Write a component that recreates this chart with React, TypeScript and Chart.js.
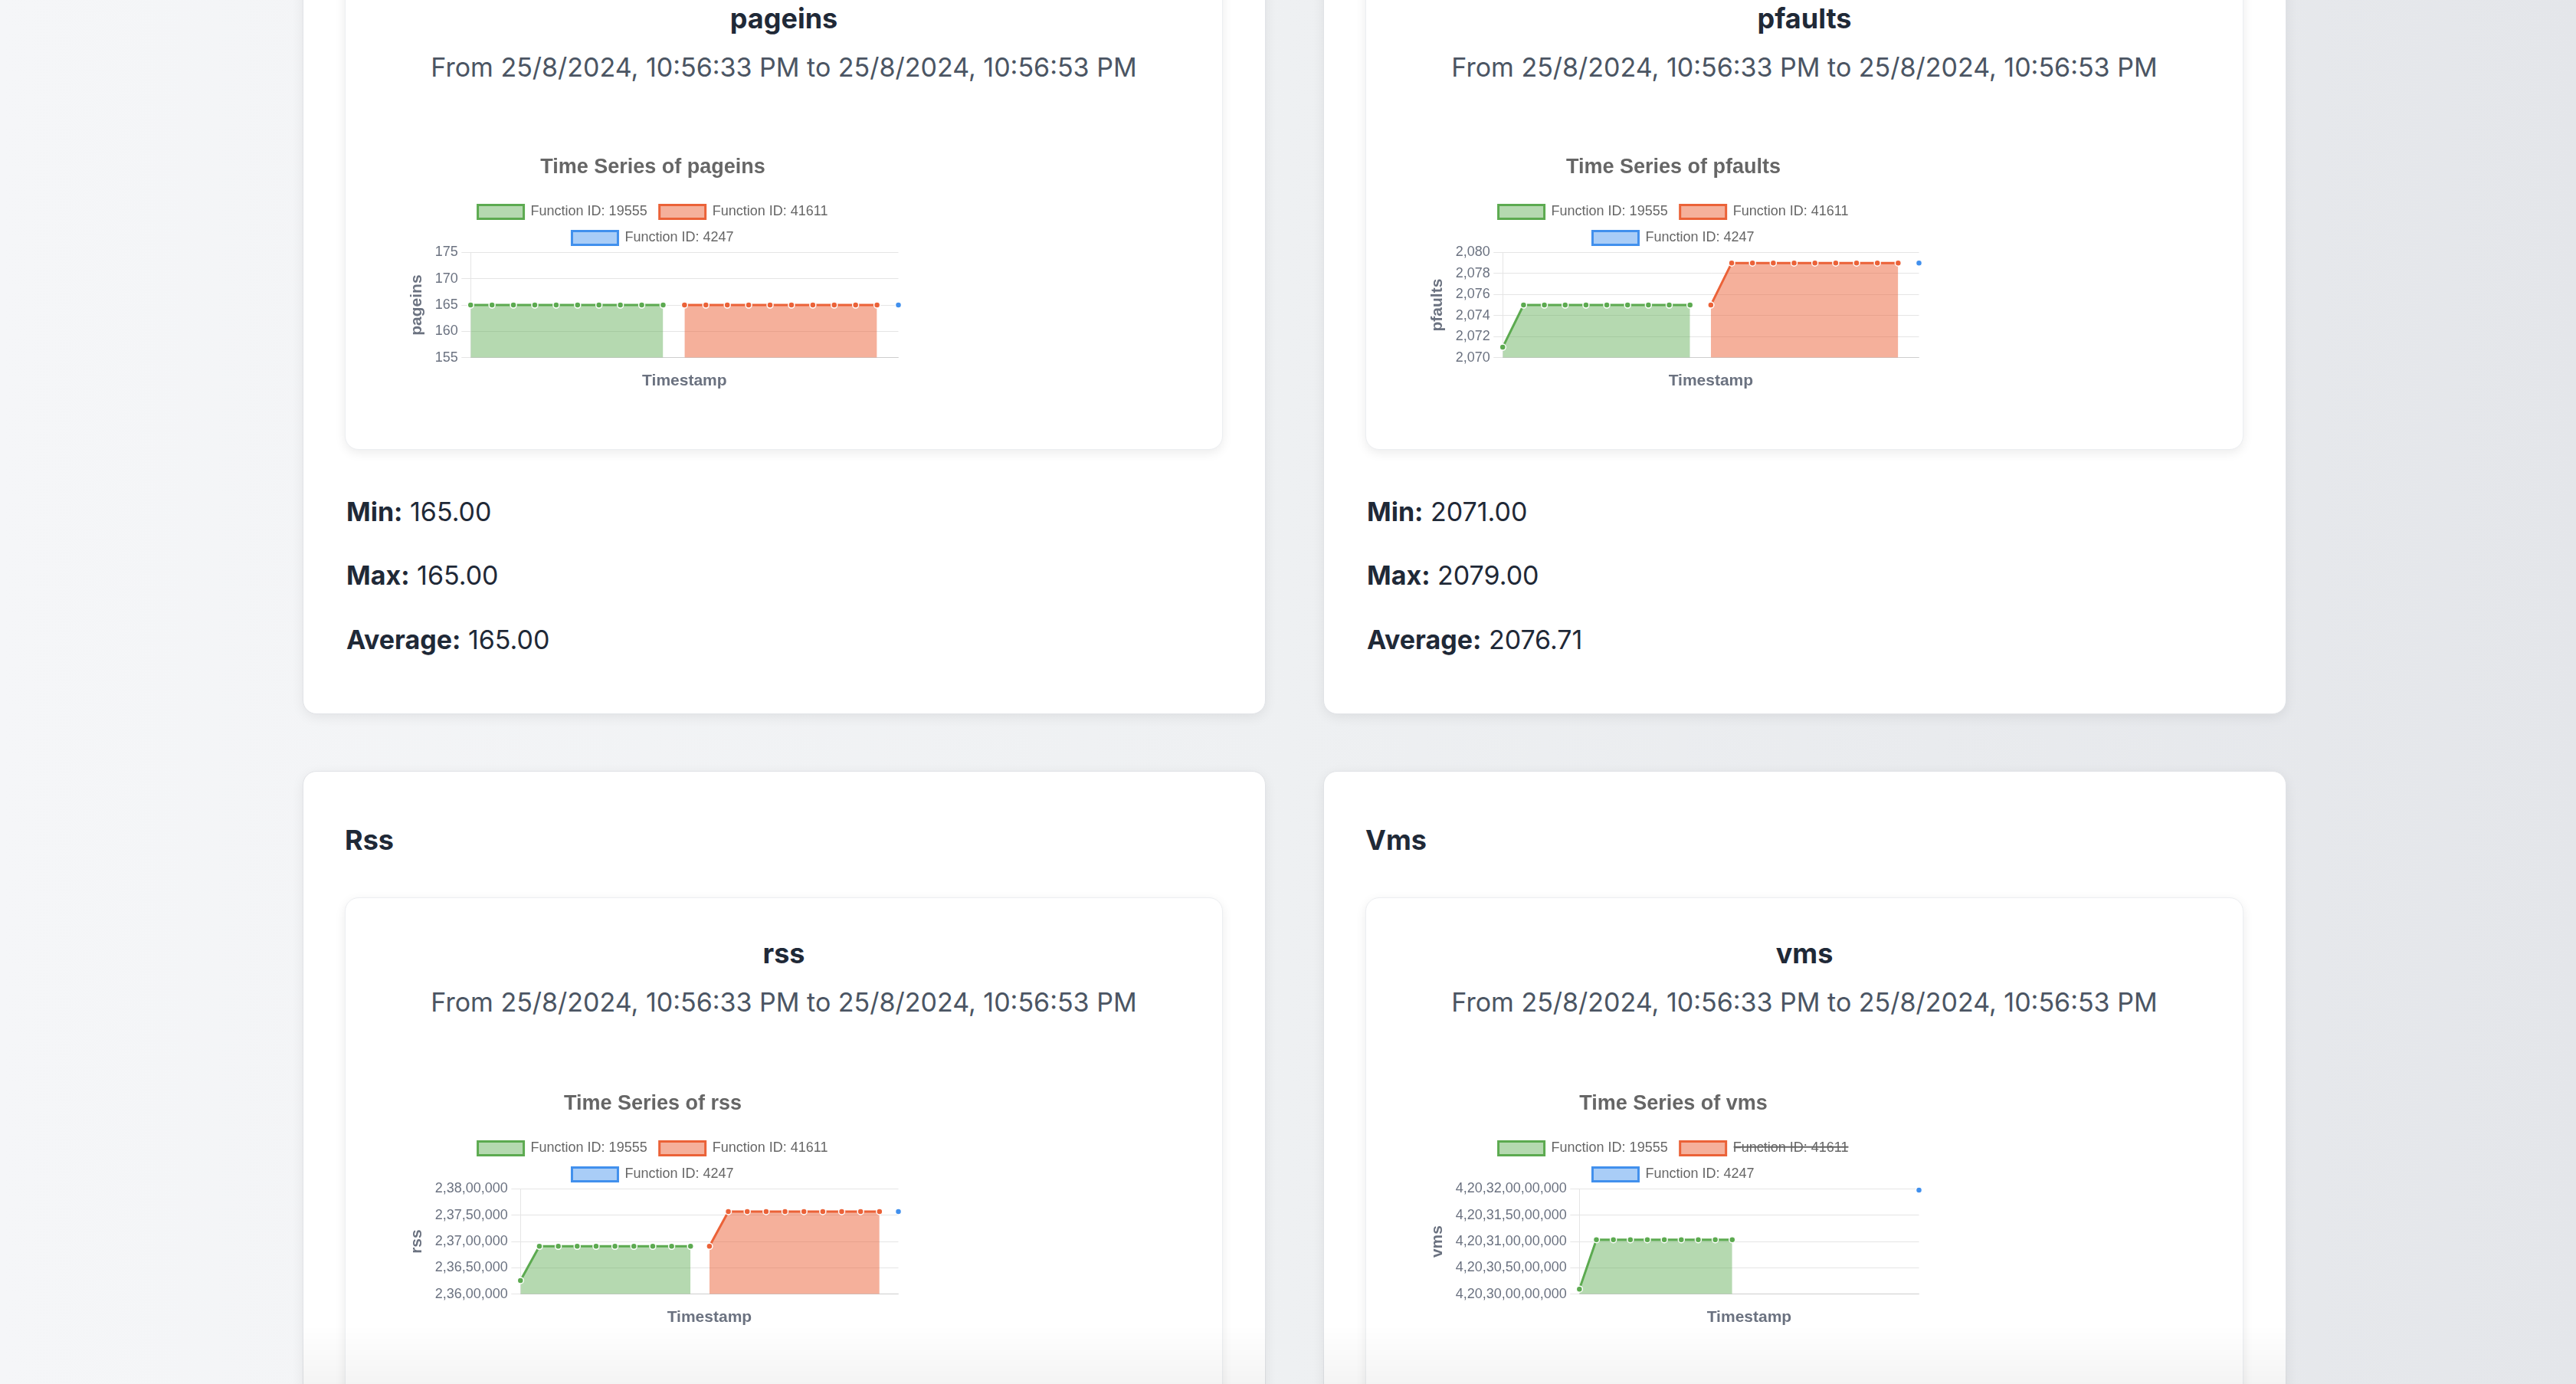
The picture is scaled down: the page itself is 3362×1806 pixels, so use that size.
import React, { useEffect, useRef } from "react";
import { Chart, registerables } from "chart.js";

Chart.register(...registerables);
Chart.defaults.font.family = "'Liberation Sans', Arial, Helvetica, sans-serif";

// ---------- data ----------
const timeLabels = [
  "10:56:33 PM", "10:56:34 PM", "10:56:35 PM", "10:56:36 PM", "10:56:37 PM",
  "10:56:38 PM", "10:56:39 PM", "10:56:40 PM", "10:56:41 PM", "10:56:42 PM",
  "10:56:43 PM", "10:56:44 PM", "10:56:45 PM", "10:56:46 PM", "10:56:47 PM",
  "10:56:48 PM", "10:56:49 PM", "10:56:50 PM", "10:56:51 PM", "10:56:52 PM",
  "10:56:53 PM",
];
const seriesNames = ["Function ID: 19555", "Function ID: 41611", "Function ID: 4247"];

const pageinsGreen = [165, 165, 165, 165, 165, 165, 165, 165, 165, 165, null, null, null, null, null, null, null, null, null, null, null];
const pageinsOrange = [null, null, null, null, null, null, null, null, null, null, 165, 165, 165, 165, 165, 165, 165, 165, 165, 165, null];
const pageinsBlue = [null, null, null, null, null, null, null, null, null, null, null, null, null, null, null, null, null, null, null, null, 165];

const pfaultsGreen = [2071, 2075, 2075, 2075, 2075, 2075, 2075, 2075, 2075, 2075, null, null, null, null, null, null, null, null, null, null, null];
const pfaultsOrange = [null, null, null, null, null, null, null, null, null, null, 2075, 2079, 2079, 2079, 2079, 2079, 2079, 2079, 2079, 2079, null];
const pfaultsBlue = [null, null, null, null, null, null, null, null, null, null, null, null, null, null, null, null, null, null, null, null, 2079];

const rssGreen = [23626000, 23691000, 23691000, 23691000, 23691000, 23691000, 23691000, 23691000, 23691000, 23691000, null, null, null, null, null, null, null, null, null, null, null];
const rssOrange = [null, null, null, null, null, null, null, null, null, null, 23691000, 23757000, 23757000, 23757000, 23757000, 23757000, 23757000, 23757000, 23757000, 23757000, null];
const rssBlue = [null, null, null, null, null, null, null, null, null, null, null, null, null, null, null, null, null, null, null, null, 23757000];

const vmsGreen = [420300970000, 420310340000, 420310340000, 420310340000, 420310340000, 420310340000, 420310340000, 420310340000, 420310340000, 420310340000, null, null, null, null, null, null, null, null, null, null, null];
const vmsOrange = [null, null, null, null, null, null, null, null, null, null, 420310340000, 420315000000, 420315000000, 420315000000, 420315000000, 420315000000, 420315000000, 420315000000, 420315000000, 420315000000, null];
const vmsBlue = [null, null, null, null, null, null, null, null, null, null, null, null, null, null, null, null, null, null, null, null, 420319760000];

const pageinsTicks = [155, 175, 5];
const pfaultsTicks = [2070, 2080, 2];
const rssTicks = [23600000, 23800000, 50000];
const vmsTicks = [420300000000, 420320000000, 5000000];

const statsPageins = ["165.00", "165.00", "165.00"];
const statsPfaults = ["2071.00", "2079.00", "2076.71"];
const rangeText = "From 25/8/2024, 10:56:33 PM to 25/8/2024, 10:56:53 PM";

// ---------- styling ----------
const COLORS = [
  { line: "rgb(92,170,80)", fill: "rgba(92,170,80,0.45)" },
  { line: "rgb(235,98,56)", fill: "rgba(235,98,56,0.5)" },
  { line: "rgb(65,144,237)", fill: "rgba(65,144,237,0.45)" },
];
const PAGE_FONT = "Inter, 'Noto Sans', sans-serif";
const CW = 652;
const CH = 329;

function fmtIN(v: number): string {
  const neg = v < 0;
  const s = Math.round(Math.abs(v)).toString();
  if (s.length <= 3) return (neg ? "-" : "") + s;
  const last3 = s.slice(-3);
  let rest = s.slice(0, -3);
  const parts: string[] = [];
  while (rest.length > 2) {
    parts.unshift(rest.slice(-2));
    rest = rest.slice(0, -2);
  }
  if (rest) parts.unshift(rest);
  return (neg ? "-" : "") + parts.join(",") + "," + last3;
}

type Spec = {
  metric: string;
  series: (number | null)[][];
  ticks: number[];
  hidden?: boolean[];
};

function LineChart({ spec, left, top }: { spec: Spec; left: number; top: number }) {
  const ref = useRef<HTMLCanvasElement>(null);
  useEffect(() => {
    const datasets = spec.series.map((d, i) => ({
      label: seriesNames[i],
      data: d,
      borderColor: COLORS[i].line,
      backgroundColor: COLORS[i].fill,
      borderWidth: 3,
      fill: "start",
      tension: 0,
      pointRadius: 4,
      pointBackgroundColor: COLORS[i].line,
      pointBorderColor: "#ffffff",
      pointBorderWidth: 1.5,
      clip: false,
      hidden: spec.hidden ? spec.hidden[i] : false,
    }));
    const chart = new Chart(ref.current as HTMLCanvasElement, {
      type: "line",
      data: { labels: timeLabels, datasets },
      options: {
        responsive: false,
        animation: false,
        devicePixelRatio: 1,
        plugins: {
          title: {
            display: true,
            text: "Time Series of " + spec.metric,
            color: "#666666",
            font: { size: 27, weight: "bold" },
            padding: { top: 15, bottom: 17 },
          },
          legend: {
            labels: {
              boxWidth: 60,
              boxHeight: 18,
              padding: 16,
              color: "#666666",
              font: { size: 18 },
            },
          },
          tooltip: { enabled: false },
        },
        scales: {
          x: {
            ticks: { display: false },
            grid: { display: false, tickLength: 12 },
            border: { color: "rgba(0,0,0,0.1)" },
            title: {
              display: true,
              text: "Timestamp",
              color: "#6b7280",
              font: { size: 21, weight: "bold" },
              padding: 6,
            },
          },
          y: {
            min: spec.ticks[0],
            max: spec.ticks[1],
            ticks: {
              stepSize: spec.ticks[2],
              color: "#6b7280",
              font: { size: 18 },
              padding: 4.5,
              callback: (v: any) => fmtIN(Number(v)),
            },
            grid: { tickLength: 12, color: "rgba(0,0,0,0.1)" },
            border: { color: "rgba(0,0,0,0.1)" },
            title: {
              display: true,
              text: spec.metric,
              color: "#6b7280",
              font: { size: 21, weight: "bold" },
              padding: 6,
            },
          },
        },
      } as any,
    });
    return () => chart.destroy();
  }, []);
  return (
    <canvas
      ref={ref}
      width={CW}
      height={CH}
      style={{ position: "absolute", left, top, width: CW, height: CH, display: "block" }}
    />
  );
}

function Txt({ x, baseline, size, weight = 400, color, align = "left", children }: any) {
  const top = baseline - 0.863 * size;
  const style: React.CSSProperties = {
    position: "absolute",
    top,
    fontSize: size,
    lineHeight: size + "px",
    fontWeight: weight,
    color,
    whiteSpace: "nowrap",
    fontFamily: PAGE_FONT,
  };
  if (align === "center") {
    style.left = x - 1000;
    style.width = 2000;
    style.textAlign = "center";
  } else {
    style.left = x;
  }
  return <div style={style}>{children}</div>;
}

const outerCard: React.CSSProperties = {
  position: "absolute",
  width: 1257,
  background: "#ffffff",
  border: "1px solid #e1e3e7",
  borderRadius: 18,
  boxShadow: "0 4px 16px rgba(0,0,0,0.07)",
  boxSizing: "border-box",
};
const innerCard: React.CSSProperties = {
  position: "absolute",
  width: 1146,
  background: "#ffffff",
  border: "1px solid #eceef1",
  borderRadius: 18,
  boxShadow: "0 4px 14px rgba(0,0,0,0.08)",
  boxSizing: "border-box",
};

function Stats({ x, vals }: { x: number; vals: string[] }) {
  const labels = ["Min:", "Max:", "Average:"];
  const bases = [680, 763, 847];
  return (
    <>
      {labels.map((l, i) => (
        <Txt key={l} x={x} baseline={bases[i]} size={34} color="#1f2937">
          <span style={{ fontWeight: 700 }}>{l}</span> {vals[i]}
        </Txt>
      ))}
    </>
  );
}

export default function App() {
  const specA: Spec = { metric: "pageins", series: [pageinsGreen, pageinsOrange, pageinsBlue], ticks: pageinsTicks };
  const specB: Spec = { metric: "pfaults", series: [pfaultsGreen, pfaultsOrange, pfaultsBlue], ticks: pfaultsTicks };
  const specC: Spec = { metric: "rss", series: [rssGreen, rssOrange, rssBlue], ticks: rssTicks };
  const specD: Spec = { metric: "vms", series: [vmsGreen, vmsOrange, vmsBlue], ticks: vmsTicks, hidden: [false, true, false] };

  const L1 = 395, L2 = 1727;
  const I1 = 450, I2 = 1782;
  const C1 = I1 + 573, C2 = I2 + 573;

  return (
    <div
      style={{
        position: "fixed",
        left: 0,
        top: 0,
        width: 3362,
        height: 1806,
        overflow: "hidden",
        background: "linear-gradient(90deg, #f5f6f8 0%, #eef0f2 50%, #e4e6ea 100%)",
        fontFamily: PAGE_FONT,
      }}
    >
      {/* outer cards */}
      <div style={{ ...outerCard, left: L1, top: -214, height: 1146 }} />
      <div style={{ ...outerCard, left: L2, top: -214, height: 1146 }} />
      <div style={{ ...outerCard, left: L1, top: 1006, height: 1200 }} />
      <div style={{ ...outerCard, left: L2, top: 1006, height: 1200 }} />

      {/* inner cards */}
      <div style={{ ...innerCard, left: I1, top: -50, height: 637 }} />
      <div style={{ ...innerCard, left: I2, top: -50, height: 637 }} />
      <div style={{ ...innerCard, left: I1, top: 1171, height: 900 }} />
      <div style={{ ...innerCard, left: I2, top: 1171, height: 900 }} />

      {/* top row texts */}
      <Txt x={C1} baseline={37} size={36} weight={700} color="#1f2937" align="center">pageins</Txt>
      <Txt x={C1} baseline={100} size={34} color="#4b5563" align="center">{rangeText}</Txt>
      <Txt x={C2} baseline={37} size={36} weight={700} color="#1f2937" align="center">pfaults</Txt>
      <Txt x={C2} baseline={100} size={34} color="#4b5563" align="center">{rangeText}</Txt>

      <LineChart spec={specA} left={I1 + 76} top={187} />
      <LineChart spec={specB} left={I2 + 76} top={187} />

      <Stats x={452} vals={statsPageins} />
      <Stats x={1784} vals={statsPfaults} />

      {/* bottom row */}
      <Txt x={450} baseline={1109} size={36} weight={700} color="#1f2937">Rss</Txt>
      <Txt x={1782} baseline={1109} size={36} weight={700} color="#1f2937">Vms</Txt>

      <Txt x={C1} baseline={1257} size={36} weight={700} color="#1f2937" align="center">rss</Txt>
      <Txt x={C1} baseline={1320} size={34} color="#4b5563" align="center">{rangeText}</Txt>
      <Txt x={C2} baseline={1257} size={36} weight={700} color="#1f2937" align="center">vms</Txt>
      <Txt x={C2} baseline={1320} size={34} color="#4b5563" align="center">{rangeText}</Txt>

      <LineChart spec={specC} left={I1 + 76} top={1409} />
      <LineChart spec={specD} left={I2 + 76} top={1409} />

      {/* bottom fade inside cards */}
      <div style={{ position: "absolute", left: L1, top: 1730, width: 1257, height: 76, background: "linear-gradient(to bottom, rgba(0,0,0,0), rgba(0,0,0,0.045))" }} />
      <div style={{ position: "absolute", left: L2, top: 1730, width: 1257, height: 76, background: "linear-gradient(to bottom, rgba(0,0,0,0), rgba(0,0,0,0.045))" }} />
    </div>
  );
}
